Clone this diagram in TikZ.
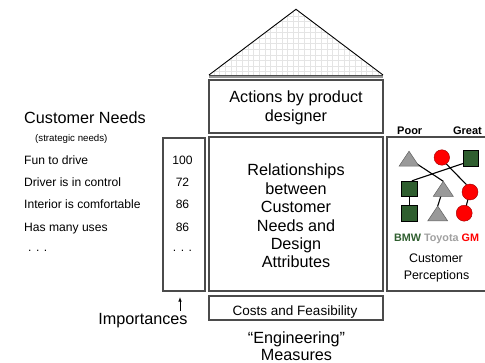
\documentclass[tikz,border=0pt]{standalone}
\usepackage{fontspec}
\setmainfont{Liberation Sans}
\usetikzlibrary{backgrounds,arrows.meta}

\definecolor{edgegray}{RGB}{75,75,75}
\definecolor{gridgray}{RGB}{228,228,228}
\definecolor{eavegray}{RGB}{150,150,150}
\definecolor{carbmw}{RGB}{47,94,47}
\definecolor{cartoyota}{RGB}{160,160,160}
\definecolor{cargm}{RGB}{255,0,0}
\definecolor{trigray}{RGB}{153,153,153}
\definecolor{tririm}{RGB}{100,100,100}

\begin{document}
\begin{tikzpicture}[x=1pt,y=-1pt,
  panel/.style={draw=edgegray, line width=1.1pt, inner sep=0pt},
  txt/.style={inner sep=0pt, anchor=base},
  big/.style={txt, font=\fontsize{16.2}{19}\selectfont},
  item/.style={txt, font=\fontsize{12.1}{14}\selectfont},
  small/.style={txt, font=\fontsize{9.7}{11}\selectfont},
  costs/.style={txt, font=\fontsize{13.5}{16}\selectfont},
  percep/.style={txt, font=\fontsize{12.4}{15}\selectfont},
  ratinglbl/.style={txt, font=\fontsize{11}{13}\selectfont\bfseries},
  brand/.style={txt, font=\fontsize{10.8}{13}\selectfont\bfseries},
  gridline/.style={gridgray, line width=0.9pt},
  link/.style={black, line width=1.1pt},
  sq/.style={draw=black, fill=carbmw, line width=0.5pt, minimum size=15.5pt, inner sep=0pt},
  dot/.style={circle, draw=red!60!black, fill=cargm, line width=0.4pt, inner sep=0pt},
  tri/.pic={
    \draw[fill=trigray, draw=tririm, line width=0.5pt]
      (0,-7.5) coordinate (-top) -- (10,7.5) -- (-10,7.5) -- cycle;
    \coordinate (-c) at (0,0);
  }
]
\useasboundingbox (0,0) rectangle (485,363);

% ---- roof with its grid ----
\coordinate (apex) at (296,9.3);
\coordinate (eaveL) at (209,75);
\coordinate (eaveR) at (383,75);
\fill[white] (apex) -- (eaveR) -- (eaveL) -- cycle;
\begin{scope}
  \clip (apex) -- (eaveR) -- (eaveL) -- cycle;
  \foreach \k in {0,...,31}
    \draw[gridline] ({208.5+5.65*\k},0) -- ({208.5+5.65*\k},76);
  \foreach \k in {0,...,12}
    \draw[gridline] (205,{5.05+5.55*\k}) -- (387,{5.05+5.55*\k});
\end{scope}
\draw[black, line width=0.9pt, line join=miter] (eaveL) -- (apex) -- (eaveR);
\draw[edgegray, line width=0.9pt] (eaveL) -- (eaveR);
\draw[eavegray, line width=1.4pt] (209,77.2) -- (383,77.2);

% ---- house panels ----
\node[panel, minimum width=174pt, minimum height=53pt] (actions) at (296,106.5) {};
\node[panel, minimum width=174pt, minimum height=154pt] (rel) at (296,214) {};
\node[panel, minimum width=42pt, minimum height=153pt] (impcol) at (184,214.5) {};
\node[panel, minimum width=174pt, minimum height=24pt] (costs) at (296,308) {};
\node[panel, minimum width=102pt, minimum height=154pt] (percbox) at (438,214) {};

% ---- texts inside the house ----
\node[big] (act1) at (296,103) {Actions by product};
\node[big] (act2) at (296,121.5) {designer};
\foreach \t [count=\i] in {Relationships,between,Customer,Needs and,Design,Attributes}
  \node[big] (rel\i) at (296,{176+18.4*(\i-1)}) {\t};
\node[costs] (costslbl) at (295,315.7) {Costs and Feasibility};
\node[big] (eng1) at (296.5,343.3) {“Engineering”};
\node[big] (eng2) at (296.5,360.6) {Measures};

% ---- customer needs and importances ----
\node[big, anchor=base west] (needs) at (24,123.3) {Customer Needs};
\node[small, anchor=base west] (strat) at (35,142) {(strategic needs)};
\foreach \t/\v/\y [count=\i] in {Fun to drive/100/164.3,
    Driver is in control/72/186.7,
    Interior is comfortable/86/209,
    Has many uses/86/231.3} {
  \node[item, anchor=base west] (need\i) at (24,\y) {\t};
  \node[item] (wt\i) at (182.5,\y) {\v};
}
\node[item, anchor=base west] (needmore) at (28,251.7) {. . .};
\node[item] (wtmore) at (182.5,251.7) {. . .};
\node[big] (imp) at (143,325) {Importances};
\coordinate (arrtail) at (180,311);
\draw[line width=0.8pt, -{Latex[length=4.5pt,width=3.6pt]}, shorten >=5.5pt]
  (arrtail) -- (arrtail |- impcol.south);

% ---- customer perceptions ----
\node[ratinglbl, anchor=base west] (poor) at (397,135) {Poor};
\node[ratinglbl, anchor=base east] (great) at (482,135) {Great};

\pic (t1) at (409,158.7) {tri};
\pic (t2) at (443.3,188.8) {tri};
\pic (t3) at (437.7,213.5) {tri};
\node[dot, minimum size=15.5pt] (c1) at (441.8,157.5) {};
\node[dot, minimum size=16pt] (c2) at (470,192) {};
\node[dot, minimum size=16pt] (c3) at (464.2,213.2) {};
\node[sq] (s1) at (470.8,158.2) {};
\node[sq] (s2) at (409.3,188.8) {};
\node[sq] (s3) at (409.3,213.2) {};

\begin{scope}[on background layer]
  \draw[link] (t1-c) -- (t2-top);
  \draw[link] (s1.214) -- (s2.72);
  \draw[link] (c1.-55) -- (c2.116);
  \draw[link] (s2.south) -- (s3.north);
  \draw[link] (t2-c) -- (t3-top);
  \draw[link] (c2.center) -- (c3.center);
\end{scope}

\node[brand] (brands) at (436.5,241.7)
  {\textcolor{carbmw}{BMW} \textcolor{cartoyota}{Toyota} \textcolor{cargm}{GM}};
\node[percep] (perc1) at (436,262.5) {Customer};
\node[percep] (perc2) at (436.5,279.5) {Perceptions};
\end{tikzpicture}
\end{document}
